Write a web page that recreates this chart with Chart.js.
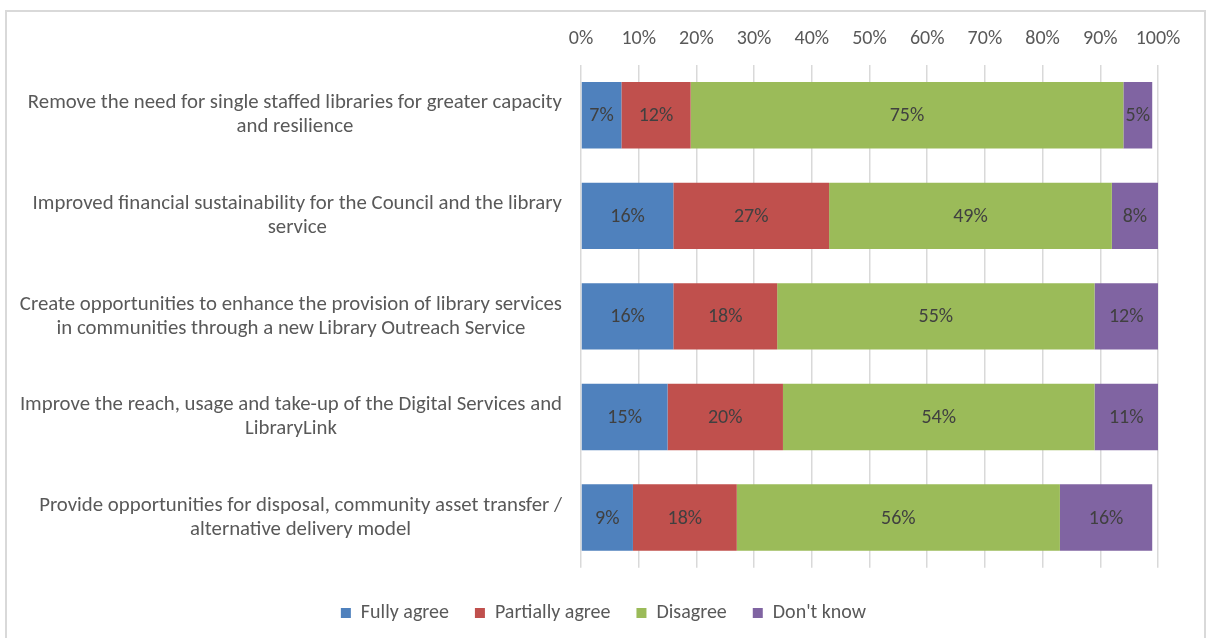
<!DOCTYPE html>
<html>
<head>
<meta charset="utf-8">
<script src="https://cdn.jsdelivr.net/npm/chart.js@4.4.1/dist/chart.umd.min.js"></script>
<style>
  html, body { margin: 0; background: #fff; }
</style>
</head>
<body>
<canvas id="chart" width="1207" height="638"></canvas>
<script>
const categories = [
  ["Remove the need for single staffed libraries for greater capacity", "and resilience"],
  ["Improved financial sustainability for the Council and the library", "service"],
  ["Create opportunities to enhance the provision of library services", "in communities through a new Library Outreach Service"],
  ["Improve the reach, usage and take-up of the Digital Services and", "LibraryLink"],
  ["Provide opportunities for disposal, community asset transfer /", "alternative delivery model"]
];
const seriesNames = ["Fully agree", "Partially agree", "Disagree", "Don't know"];
const fullyAgree = [7, 16, 16, 15, 9];
const partiallyAgree = [12, 27, 18, 20, 18];
const disagree = [75, 49, 55, 54, 56];
const dontKnow = [5, 8, 12, 11, 16];
const xMin = 0, xMax = 100, xStep = 10;

const FONT = "Carlito, Lato, sans-serif";
const TEXT = "#595959";
const colors = ["#4F81BD", "#C0504D", "#9BBB59", "#8064A2"];

// frame round the whole chart
const framePlugin = {
  id: "frame",
  beforeDraw(chart) {
    const ctx = chart.ctx;
    ctx.save();
    ctx.fillStyle = "#fff";
    ctx.fillRect(0, 0, chart.width, chart.height);
    ctx.strokeStyle = "#d9d9d9";
    ctx.lineWidth = 2;
    ctx.strokeRect(6, 11, 1199, 660);
    ctx.restore();
  }
};

// category labels: each block centred, blocks right aligned to the axis
const categoryLabels = {
  id: "categoryLabels",
  afterDraw(chart) {
    const ctx = chart.ctx, y = chart.scales.y;
    const right = chart.chartArea.left - 19;
    ctx.save();
    ctx.font = "20.8px " + FONT;
    ctx.fillStyle = TEXT;
    ctx.textAlign = "center";
    ctx.textBaseline = "middle";
    categories.forEach((lines, i) => {
      const w = Math.max(...lines.map(l => ctx.measureText(l).width));
      const cy = y.getPixelForValue(i);
      lines.forEach((l, j) => {
        ctx.fillText(l, right - w / 2, cy + (j - (lines.length - 1) / 2) * 24);
      });
    });
    ctx.restore();
  }
};

// value labels in the middle of each segment
const valueLabels = {
  id: "valueLabels",
  afterDatasetsDraw(chart) {
    const ctx = chart.ctx, area = chart.chartArea;
    ctx.save();
    ctx.font = "20px " + FONT;
    ctx.fillStyle = "#404040";
    ctx.textAlign = "center";
    ctx.textBaseline = "middle";
    chart.data.datasets.forEach((ds, di) => {
      chart.getDatasetMeta(di).data.forEach((bar, i) => {
        const a = Math.max(Math.min(bar.x, bar.base), area.left);
        const b = Math.min(Math.max(bar.x, bar.base), area.right);
        ctx.fillText(ds.data[i] + "%", (a + b) / 2, bar.y + 1);
      });
    });
    ctx.restore();
  }
};

new Chart(document.getElementById("chart"), {
  type: "bar",
  data: {
    labels: categories,
    datasets: [fullyAgree, partiallyAgree, disagree, dontKnow].map((d, i) => ({
      label: seriesNames[i],
      data: d,
      backgroundColor: colors[i],
      borderWidth: 0,
      barPercentage: 0.66,
      categoryPercentage: 1
    }))
  },
  options: {
    indexAxis: "y",
    responsive: false,
    animation: false,
    devicePixelRatio: 1,
    layout: { padding: { left: 0, right: 0, top: 0, bottom: 5 } },
    scales: {
      x: {
        position: "top",
        stacked: true,
        min: xMin,
        max: xMax,
        ticks: {
          stepSize: xStep,
          padding: 14,
          color: TEXT,
          font: { family: FONT, size: 20 },
          callback: v => v + "%"
        },
        grid: { color: "#d9d9d9", lineWidth: 1.5, drawTicks: false },
        border: { display: false },
        afterFit: s => { s.height = 65; }
      },
      y: {
        stacked: true,
        ticks: { display: false },
        grid: { display: false },
        border: { display: false },
        afterFit: s => { s.width = 581; }
      },
      // empty space on the right of the plot
      yRight: {
        type: "category",
        axis: "y",
        position: "right",
        ticks: { display: false },
        grid: { display: false },
        border: { display: false },
        afterFit: s => { s.width = 49; }
      }
    },
    plugins: {
      tooltip: { enabled: false },
      legend: {
        position: "bottom",
        title: { display: true, text: "", font: { size: 1 }, padding: { top: 8, bottom: 0 } },
        labels: {
          boxWidth: 10,
          boxHeight: 10,
          padding: 26,
          color: TEXT,
          font: { family: FONT, size: 20 }
        }
      }
    }
  },
  plugins: [framePlugin, categoryLabels, valueLabels]
});
</script>
</body>
</html>
